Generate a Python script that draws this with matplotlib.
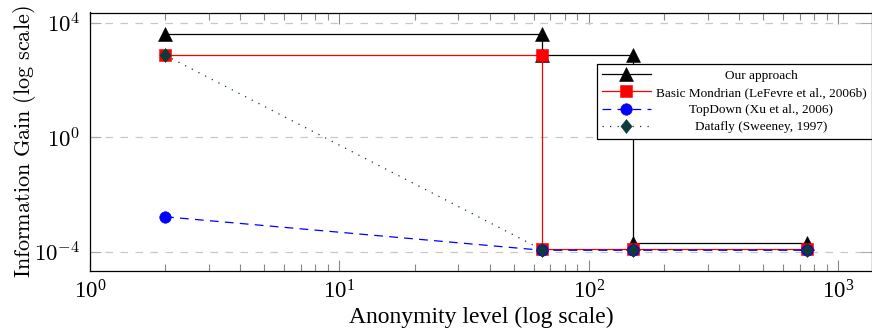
import math
import matplotlib
matplotlib.use("Agg")
import matplotlib.pyplot as plt
from matplotlib.ticker import LogLocator, NullLocator, NullFormatter, FuncFormatter

plt.rcParams["mathtext.fontset"] = "cm"
plt.rcParams["font.family"] = ["Liberation Serif", "DejaVu Serif"]

# Information gain per anonymity level for each method
our_k = [2, 65, 65, 150, 150, 750]
our_gain = [4200, 4200, 750, 750, 2.0e-4, 2.0e-4]

mondrian_k = [2, 65, 65, 150, 750]
mondrian_gain = [750, 750, 1.3e-4, 1.3e-4, 1.3e-4]

topdown_k = [2, 65, 150, 750]
topdown_gain = [1.7e-3, 1.15e-4, 1.15e-4, 1.15e-4]

datafly_k = [2, 65, 150, 750]
datafly_gain = [750, 1.2e-4, 1.2e-4, 1.2e-4]

labels = [
    "Our approach",
    "Basic Mondrian (LeFevre et al., 2006b)",
    "TopDown (Xu et al., 2006)",
    "Datafly (Sweeney, 1997)",
]

diamond = [(0, 1), (0.8, 0), (0, -1), (-0.8, 0), (0, 1)]

fig = plt.figure(figsize=(8.72, 3.30), dpi=100)
ax = fig.add_axes([90 / 872, 1 - 271 / 330, 782 / 872, 258.5 / 330])

ax.plot(our_k, our_gain, color="black", lw=0.9, marker="^", ms=10, mew=0.4,
        label=labels[0])
ax.plot(mondrian_k, mondrian_gain, color="#ff0000", lw=0.9, marker="s", ms=8,
        mew=0.4, label=labels[1])
ax.plot(topdown_k, topdown_gain, color="#0000ff", lw=0.9, ls=(0, (7, 5)),
        marker="o", ms=8.3, mew=0.4, label=labels[2])
ax.plot(datafly_k, datafly_gain, color="#0b3b3b", lw=0.9, ls=(0, (1, 5)),
        marker=diamond, ms=10, mew=0.4, label=labels[3])

ax.set_xscale("log")
ax.set_yscale("log")
ax.set_xlim(1, 10 ** ((871 - 90) / 249.1))
ax.set_ylim(10 ** (-4 - 19 / 28.6), 10 ** (4 + 10.5 / 28.6))

ax.xaxis.set_major_locator(LogLocator(base=10, numticks=10))
ax.xaxis.set_minor_locator(LogLocator(base=10, subs=range(2, 10), numticks=10))
ax.xaxis.set_minor_formatter(NullFormatter())
ax.set_yticks([1e-4, 1e0, 1e4])
ax.yaxis.set_major_formatter(
    FuncFormatter(lambda v, p: r"$10^{%d}$" % round(math.log10(v))))
ax.yaxis.set_minor_locator(NullLocator())

ax.tick_params(axis="x", which="both", direction="in", top=True, bottom=True,
               colors="#888888", labelcolor="black", labelsize=16.5, pad=7)
ax.tick_params(axis="x", which="major", length=8, width=0.8)
ax.tick_params(axis="x", which="minor", length=5, width=0.8)
ax.tick_params(axis="y", which="major", direction="in", left=True, right=True,
               length=8, width=0.8, colors="#aaaaaa", labelcolor="black",
               labelsize=16.5, pad=7)
for t in ax.get_xticklabels():
    t.set_math_fontfamily("stix")

ax.grid(axis="y", which="major", color="#c8c8c8", lw=0.9, ls=(0, (6, 6)))
ax.set_axisbelow(True)
for s in ax.spines.values():
    s.set_linewidth(0.9)
    s.set_color("black")

ax.set_xlabel("Anonymity level (log scale)", fontsize=17, labelpad=2)
ax.set_ylabel(r"$\mathrm{Information\ Gain\ (log\ scale)}$", fontsize=16,
              labelpad=-3)

leg = ax.legend(loc="upper right", bbox_to_anchor=(1.0, 0.80), borderaxespad=0,
                fontsize=9.5, handlelength=3.7, handletextpad=0.4,
                labelspacing=0.38, borderpad=0.4, fancybox=False,
                edgecolor="black", framealpha=1, numpoints=1)
leg.get_frame().set_linewidth(0.9)

# centre each legend entry's text within the text column
fig.canvas.draw()
renderer = fig.canvas.get_renderer()
texts = leg.get_texts()
widths = [t.get_window_extent(renderer).width for t in texts]
wmax = max(widths)
for t, w in zip(texts, widths):
    t.set_position(((wmax - w) / 2, 0))

fig.savefig("out.png", dpi=100)
